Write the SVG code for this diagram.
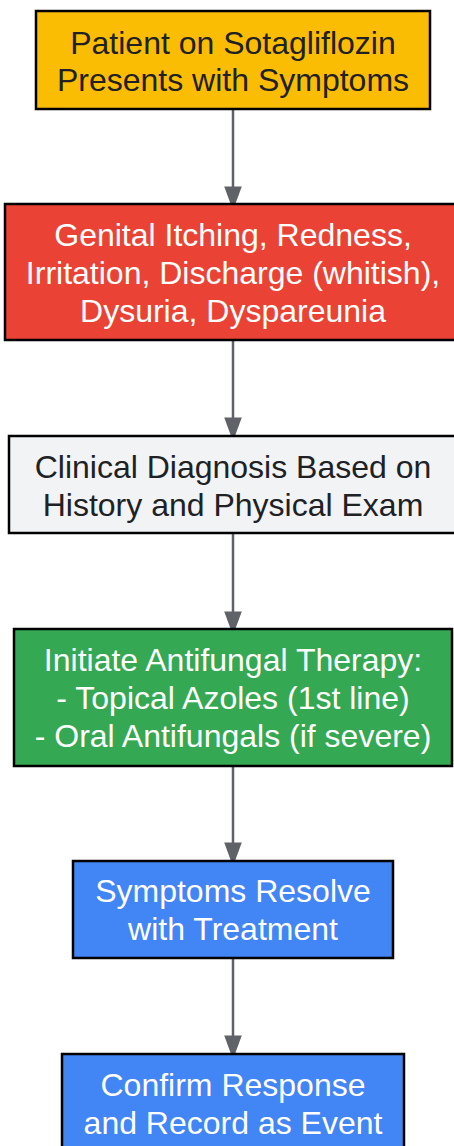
<svg xmlns="http://www.w3.org/2000/svg" width="454" height="1146" viewBox="0 0 454 1146">
<style>
.box{stroke:#000;stroke-width:2.5}
.t{font-family:"Liberation Sans",Arial,sans-serif;font-size:32px;text-anchor:middle}
.dark{fill:#202124}
.light{fill:#ffffff}
.edge{stroke:#5f6368;stroke-width:2.5;fill:none}
</style>
<defs>
<marker id="arr" markerUnits="userSpaceOnUse" markerWidth="24" markerHeight="30" refX="22" refY="11" orient="auto" viewBox="0 0 30 22">
<path d="M0,0 L30,11 L0,22 Z" fill="#5f6368"/>
</marker>
</defs>
<rect width="454" height="1146" fill="#fff"/>
<g id="connectors">
<line class="edge" x1="233" y1="110" x2="233" y2="204" marker-end="url(#arr)"/>
<line class="edge" x1="233" y1="341" x2="233" y2="435" marker-end="url(#arr)"/>
<line class="edge" x1="233" y1="534" x2="233" y2="629" marker-end="url(#arr)"/>
<line class="edge" x1="233" y1="766" x2="233" y2="860" marker-end="url(#arr)"/>
<line class="edge" x1="233" y1="959" x2="233" y2="1053" marker-end="url(#arr)"/>
</g>
<g id="n1">
<rect class="box" x="36" y="11" width="394" height="98" fill="#fbbc04"/>
<text class="t dark" x="233" y="54">Patient on Sotagliflozin</text>
<text class="t dark" x="233" y="91">Presents with Symptoms</text>
</g>
<g id="n2">
<rect class="box" x="5" y="204" width="456" height="136" fill="#ea4335"/>
<text class="t light" x="233" y="246">Genital Itching, Redness,</text>
<text class="t light" x="233" y="284">Irritation, Discharge (whitish),</text>
<text class="t light" x="233" y="322">Dysuria, Dyspareunia</text>
</g>
<g id="n3">
<rect class="box" x="9" y="436" width="448" height="97" fill="#f1f3f4"/>
<text class="t dark" x="233" y="478">Clinical Diagnosis Based on</text>
<text class="t dark" x="233" y="516">History and Physical Exam</text>
</g>
<g id="n4">
<rect class="box" x="14" y="629" width="438" height="137" fill="#34a853"/>
<text class="t light" x="233" y="671">Initiate Antifungal Therapy:</text>
<text class="t light" x="233" y="709">- Topical Azoles (1st line)</text>
<text class="t light" x="233" y="747">- Oral Antifungals (if severe)</text>
</g>
<g id="n5">
<rect class="box" x="73" y="861" width="320" height="97" fill="#4285f4"/>
<text class="t light" x="233" y="902">Symptoms Resolve</text>
<text class="t light" x="233" y="940">with Treatment</text>
</g>
<g id="n6">
<rect class="box" x="62" y="1054" width="342" height="110" fill="#4285f4"/>
<text class="t light" x="233" y="1096">Confirm Response</text>
<text class="t light" x="233" y="1134">and Record as Event</text>
</g>
</svg>
